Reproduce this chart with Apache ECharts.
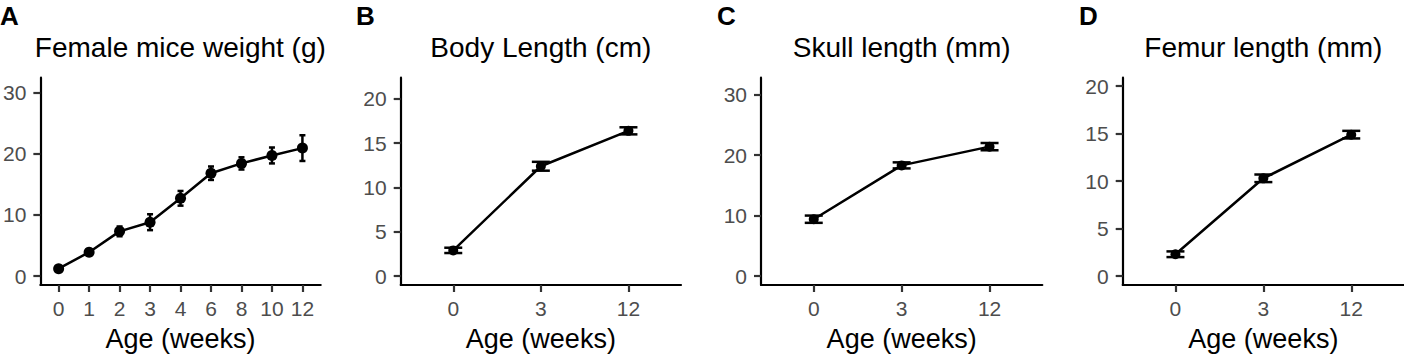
<!DOCTYPE html>
<html>
<head>
<meta charset="utf-8">
<script src="https://cdn.jsdelivr.net/npm/echarts@6/dist/echarts.min.js"></script>
<style>
html,body{margin:0;padding:0;background:#fff;}
#chart{width:1404px;height:357px;}
</style>
</head>
<body>
<div id="chart"></div>
<script>
// ---- Data ----
const weightAges = ['0', '1', '2', '3', '4', '6', '8', '10', '12'];
const weightMean = [1.2, 3.9, 7.3, 8.8, 12.7, 16.8, 18.4, 19.7, 20.9];
const weightErr  = [0.3, 0.5, 0.8, 1.3, 1.2, 1.1, 1.0, 1.3, 2.1];

const lengthAges = ['0', '3', '12'];
const bodyMean  = [2.9, 12.4, 16.4];
const bodyErr   = [0.3, 0.5, 0.4];
const skullMean = [9.4, 18.3, 21.4];
const skullErr  = [0.6, 0.5, 0.6];
const femurMean = [2.3, 10.3, 14.9];
const femurErr  = [0.3, 0.4, 0.4];

const yTicksWeight = [0, 10, 20, 30];
const yTicksBody   = [0, 5, 10, 15, 20];
const yTicksSkull  = [0, 10, 20, 30];
const yTicksFemur  = [0, 5, 10, 15, 20];

const panelLetters = ['A', 'B', 'C', 'D'];
const panelTitles = ['Female mice weight (g)', 'Body Length (cm)', 'Skull length (mm)', 'Femur length (mm)'];
const xAxisTitle = 'Age (weeks)';

// ---- Layout ----
const panels = [
  {cats: weightAges, mean: weightMean, err: weightErr, ticks: yTicksWeight, left: 40, width: 280.7, ymin: -1.46, ymax: 32.4, cap: 3, sym: 11, letterX: 0},
  {cats: lengthAges, mean: bodyMean, err: bodyErr, ticks: yTicksBody, left: 400.7, width: 280.3, ymin: -1.01, ymax: 22.4, cap: 9, sym: 10, letterX: 356},
  {cats: lengthAges, mean: skullMean, err: skullErr, ticks: yTicksSkull, left: 761, width: 281.3, ymin: -1.48, ymax: 32.8, cap: 9, sym: 10, letterX: 717},
  {cats: lengthAges, mean: femurMean, err: femurErr, ticks: yTicksFemur, left: 1122.7, width: 281.3, ymin: -0.94, ymax: 20.9, cap: 9, sym: 10, letterX: 1079}
];
const gridTop = 77.7, gridHeight = 209;
const FONT = '"Liberation Sans", Arial, sans-serif';

const grid = [], xAxis = [], yAxis = [], series = [], graphic = [];

panels.forEach((p, i) => {
  const n = p.cats.length;
  const idx = p.cats.map((c, k) => k);
  grid.push({left: p.left, top: gridTop, width: p.width, height: gridHeight, containLabel: false});
  xAxis.push({
    type: 'value', gridIndex: i, min: -0.6, max: n - 1 + 0.6,
    axisLine: {show: true, onZero: false, lineStyle: {color: '#000', width: 2.2}},
    axisTick: {show: true, customValues: idx, length: 7, lineStyle: {color: '#333', width: 2.2}},
    axisLabel: {show: true, customValues: idx, margin: 13, color: '#4d4d4d', fontSize: 21, fontFamily: FONT,
      formatter: (v) => p.cats[Math.round(v)]},
    splitLine: {show: false},
    name: xAxisTitle, nameLocation: 'middle', nameGap: 40,
    nameTextStyle: {color: '#000', fontSize: 27, fontFamily: FONT}
  });
  yAxis.push({
    type: 'value', gridIndex: i, min: p.ymin, max: p.ymax,
    axisLine: {show: true, onZero: false, lineStyle: {color: '#000', width: 2.2}},
    axisTick: {show: true, customValues: p.ticks, length: 7, lineStyle: {color: '#333', width: 2.2}},
    axisLabel: {show: true, customValues: p.ticks, margin: 14, color: '#4d4d4d', fontSize: 21, fontFamily: FONT},
    splitLine: {show: false}
  });
  series.push({
    type: 'custom', xAxisIndex: i, yAxisIndex: i,
    data: p.mean.map((m, k) => [k, m - p.err[k], m + p.err[k]]),
    encode: {x: 0, y: [1, 2]},
    z: 3,
    renderItem: (params, api) => {
      const x = api.value(0);
      const lo = api.coord([x, api.value(1)]);
      const hi = api.coord([x, api.value(2)]);
      const st = {stroke: '#000', lineWidth: 2.5};
      return {type: 'group', children: [
        {type: 'line', shape: {x1: lo[0], y1: lo[1], x2: hi[0], y2: hi[1]}, style: st},
        {type: 'line', shape: {x1: lo[0] - p.cap, y1: lo[1], x2: lo[0] + p.cap, y2: lo[1]}, style: st},
        {type: 'line', shape: {x1: hi[0] - p.cap, y1: hi[1], x2: hi[0] + p.cap, y2: hi[1]}, style: st}
      ]};
    }
  });
  series.push({
    type: 'line', xAxisIndex: i, yAxisIndex: i,
    data: p.mean.map((m, k) => [k, m]),
    symbol: 'circle', symbolSize: p.sym, showSymbol: true,
    lineStyle: {color: '#000', width: 2.5},
    itemStyle: {color: '#000'},
    z: 4, animation: false
  });
  graphic.push({
    type: 'text', left: p.letterX, top: 3,
    style: {text: panelLetters[i], font: 'bold 26px ' + FONT, fill: '#000'}
  });
  graphic.push({
    type: 'text', x: p.left + p.width / 2, y: 47,
    style: {text: panelTitles[i], font: '28px ' + FONT, fill: '#000', align: 'center', verticalAlign: 'middle', textAlign: 'center', textVerticalAlign: 'middle'}
  });
});

const chart = echarts.init(document.getElementById('chart'), null, {renderer: 'svg'});
chart.setOption({
  animation: false,
  backgroundColor: '#fff',
  grid, xAxis, yAxis, series, graphic
});
</script>
</body>
</html>
